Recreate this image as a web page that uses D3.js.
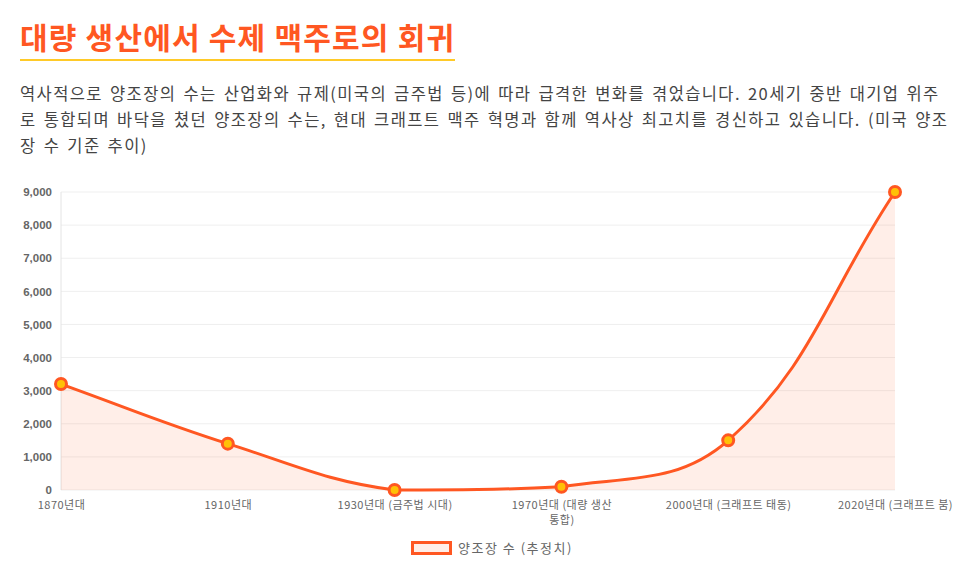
<!DOCTYPE html>
<html>
<head>
<meta charset="utf-8">
<title>대량 생산에서 수제 맥주로의 회귀</title>
<script src="https://d3js.org/d3.v7.min.js"></script>
<style>
    body {
        margin: 0;
        background: #fff;
        font-family: "Noto Sans CJK KR", "Noto Sans", sans-serif;
    }
    .wrap { padding: 0 20px; }
    h1 {
        display: inline-block;
        margin: 17px 0 0 0;
        padding-bottom: 4px;
        font-size: 30px;
        line-height: 38px;
        font-weight: 700;
        letter-spacing: 1.2px;
        color: #ff5722;
        border-bottom: 2px solid #ffca28;
    }
    p {
        margin: 19px 0 0 0;
        font-size: 16.5px;
        line-height: 26px;
        letter-spacing: 1.4px;
        word-spacing: 2px;
        word-break: break-all;
        color: #444;
    }
    #chart { position: absolute; left: 0; top: 180px; }
</style>
</head>
<body>
<div class="wrap">
    <h1>대량 생산에서 수제 맥주로의 회귀</h1>
    <p>역사적으로 양조장의 수는 산업화와 규제(미국의 금주법 등)에 따라 급격한 변화를 겪었습니다. 20세기 중반 대기업 위주로 통합되며 바닥을 쳤던 양조장의 수는, 현대 크래프트 맥주 혁명과 함께 역사상 최고치를 경신하고 있습니다. (미국 양조장 수 기준 추이)</p>
</div>
<div id="chart"></div>
<script>
    // 데이터
    let labels = [["1870년대"], ["1910년대"], ["1930년대 (금주법 시대)"],
                  ["1970년대 (대량 생산", "통합)"], ["2000년대 (크래프트 태동)"],
                  ["2020년대 (크래프트 붐)"]];
    let breweries = [3200, 1400, 0, 100, 1500, 9000];
    let yTicks = [0, 1000, 2000, 3000, 4000, 5000, 6000, 7000, 8000, 9000];
    let seriesName = "양조장 수 (추정치)";

    let W = 975, H = 393;
    let margin = {top: 12, right: 80, bottom: 83, left: 61};
    let w = W - margin.left - margin.right;
    let h = H - margin.top - margin.bottom;

    let svg = d3.select("#chart").append("svg")
        .attr("width", W).attr("height", H);
    let g = svg.append("g")
        .attr("transform", "translate(" + margin.left + "," + margin.top + ")");

    let x = d3.scalePoint().domain(d3.range(labels.length)).range([0, w]);
    let y = d3.scaleLinear().domain([0, 9000]).range([h, 0]);

    // 그리드
    g.selectAll(".grid").data(yTicks).enter().append("line")
        .attr("x1", 0).attr("x2", w)
        .attr("y1", d => y(d)).attr("y2", d => y(d))
        .attr("stroke", "#efefef").attr("stroke-width", 1);
    g.append("line")
        .attr("x1", 0).attr("x2", 0).attr("y1", 0).attr("y2", h)
        .attr("stroke", "#e4e4e4");

    // y축
    let yAxis = g.append("g").call(d3.axisLeft(y).tickValues(yTicks)
        .tickSize(0).tickPadding(9).tickFormat(d3.format(",")));
    yAxis.select(".domain").remove();
    yAxis.selectAll("text")
        .attr("font-family", "Liberation Sans, Arial, sans-serif")
        .attr("font-size", "11.5px").attr("font-weight", "bold").attr("fill", "#666");

    // x축
    let xAxis = g.append("g").attr("transform", "translate(0," + h + ")")
        .call(d3.axisBottom(x).tickSize(0).tickPadding(0).tickFormat(""));
    xAxis.select(".domain").remove();
    xAxis.selectAll(".tick").each(function (d) {
        let t = d3.select(this).append("text")
            .attr("text-anchor", "middle")
            .attr("font-family", "Noto Sans CJK KR, sans-serif")
            .attr("font-size", "11px").attr("letter-spacing", "0.5px").attr("fill", "#666");
        labels[d].forEach((s, i) => {
            t.append("tspan").attr("x", 0).attr("y", 19 + i * 15).text(s);
        });
    });

    // Chart.js 스타일 곡선 (tension 0.4)
    let pts = breweries.map((v, i) => ({x: x(i), y: y(v)}));
    let tension = 0.4;
    let cps = pts.map((p, i) => {
        let prev = pts[i - 1] || p, next = pts[i + 1] || p;
        let d01 = Math.hypot(p.x - prev.x, p.y - prev.y);
        let d12 = Math.hypot(next.x - p.x, next.y - p.y);
        let s01 = d01 / (d01 + d12) || 0, s12 = d12 / (d01 + d12) || 0;
        let fa = tension * s01, fb = tension * s12;
        let clampX = v => Math.max(0, Math.min(w, v));
        let clampY = v => Math.max(0, Math.min(h, v));
        return {
            px: clampX(p.x - fa * (next.x - prev.x)), py: clampY(p.y - fa * (next.y - prev.y)),
            nx: clampX(p.x + fb * (next.x - prev.x)), ny: clampY(p.y + fb * (next.y - prev.y))
        };
    });
    function curve(path) {
        path.moveTo(pts[0].x, pts[0].y);
        for (let i = 1; i < pts.length; i++) {
            path.bezierCurveTo(cps[i - 1].nx, cps[i - 1].ny, cps[i].px, cps[i].py, pts[i].x, pts[i].y);
        }
        return path;
    }
    let area = curve(d3.path());
    area.lineTo(pts[pts.length - 1].x, h);
    area.lineTo(pts[0].x, h);
    area.closePath();
    g.append("path").attr("d", area.toString())
        .attr("fill", "rgba(255,87,34,0.1)");
    g.append("path").attr("d", curve(d3.path()).toString())
        .attr("fill", "none").attr("stroke", "#ff5722").attr("stroke-width", 3);

    g.selectAll(".pt").data(breweries).enter().append("circle")
        .attr("cx", (d, i) => x(i)).attr("cy", d => y(d))
        .attr("r", 5.5)
        .attr("fill", "#ffc107").attr("stroke", "#ff5722").attr("stroke-width", 3);

    // 범례
    let leg = svg.append("g").attr("transform", "translate(411,361)");
    leg.append("rect").attr("x", 1.5).attr("y", 1.5).attr("width", 38).attr("height", 11)
        .attr("fill", "rgba(255,87,34,0.1)").attr("stroke", "#ff5722").attr("stroke-width", 3);
    leg.append("text").attr("x", 47).attr("y", 7).attr("dy", "0.35em")
        .attr("font-family", "Noto Sans CJK KR, sans-serif")
        .attr("font-size", "13px").attr("letter-spacing", "1.5px")
        .attr("fill", "#666").text(seriesName);
</script>
</body>
</html>
